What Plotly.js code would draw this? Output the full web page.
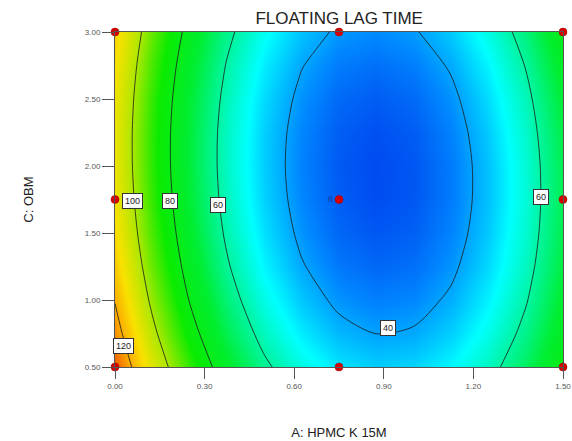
<!DOCTYPE html>
<html>
<head>
<meta charset="utf-8">
<script src="https://cdn.plot.ly/plotly-3.0.1.min.js"></script>
<style>html,body{margin:0;padding:0;background:#fff;}#chart{width:572px;height:441px;}</style>
</head>
<body>
<div id="chart"></div>
<script>
// A: HPMC K 15M (x) grid and C: OBM (y) grid
var hpmc = [0, 0.125, 0.25, 0.375, 0.5, 0.625, 0.75, 0.875, 1.0, 1.125, 1.25, 1.375, 1.5];
var obm = [0.5, 0.75, 1.0, 1.25, 1.5, 1.75, 2.0, 2.25, 2.5, 2.75, 3.0];
// Floating lag time (rows follow obm)
var lagTime = [
  [129.75, 107.95, 89.37, 74.01, 61.87, 52.95, 47.24, 44.76, 45.49, 49.45, 56.62, 67.01, 80.62],
  [124.17, 102.49, 84.02, 68.77, 56.74, 47.93, 42.34, 39.96, 40.81, 44.87, 52.15, 62.65, 76.37],
  [119.51, 97.93, 79.57, 64.43, 52.51, 43.81, 38.33, 36.07, 37.02, 41.20, 48.59, 59.20, 73.03],
  [115.74, 94.27, 76.03, 61.00, 49.19, 40.60, 35.23, 33.08, 34.14, 38.43, 45.93, 56.65, 70.59],
  [112.88, 91.52, 73.39, 58.47, 46.77, 38.29, 33.03, 30.99, 32.17, 36.56, 44.18, 55.01, 69.06],
  [110.92, 89.68, 71.65, 56.84, 45.26, 36.89, 31.74, 29.81, 31.09, 35.60, 43.33, 54.27, 68.43],
  [109.86, 88.73, 70.82, 56.12, 44.64, 36.39, 31.35, 29.53, 30.93, 35.54, 43.38, 54.43, 68.71],
  [109.72, 88.69, 70.89, 56.30, 44.94, 36.79, 31.86, 30.15, 31.66, 36.39, 44.33, 55.50, 69.88],
  [110.47, 89.56, 71.86, 57.39, 46.13, 38.10, 33.28, 31.68, 33.30, 38.14, 46.20, 57.47, 71.97],
  [112.13, 91.32, 73.74, 59.38, 48.23, 40.31, 35.60, 34.11, 35.84, 40.79, 48.96, 60.35, 74.95],
  [114.69, 94.00, 76.53, 62.27, 51.24, 43.42, 38.83, 37.45, 39.29, 44.35, 52.63, 64.13, 78.84]
];
// design points
var designA = [0, 0, 0, 0.75, 0.75, 0.75, 1.5, 1.5, 1.5];
var designC = [0.5, 1.75, 3.0, 0.5, 1.75, 3.0, 0.5, 1.75, 3.0];
var designText = ['', '', '', '', '6', '', '', '', ''];
// contour label positions and texts
var labelA = [0.057, 0.184, 0.345, 1.426, 0.914, 0.03];
var labelC = [1.74, 1.74, 1.71, 1.77, 0.79, 0.657];
var labelText = ['100', '80', '60', '60', '40', '120'];
var xTicks = [0, 0.3, 0.6, 0.9, 1.2, 1.5];
var yTicks = [0.5, 1.0, 1.5, 2.0, 2.5, 3.0];

var zlo = 29.5, zhi = 130;
function stop(v, c) { return [(v - zlo) / (zhi - zlo), c]; }
var scale = [
  stop(29.5, 'rgb(0,75,240)'),
  stop(37, 'rgb(0,135,255)'),
  stop(50, 'rgb(0,255,255)'),
  stop(60, 'rgb(0,245,160)'),
  stop(72, 'rgb(0,238,50)'),
  stop(86, 'rgb(10,235,0)'),
  stop(100, 'rgb(170,232,0)'),
  stop(112, 'rgb(250,225,0)'),
  stop(122, 'rgb(250,160,0)'),
  stop(130, 'rgb(240,90,0)')
];

var traces = [
  {type: 'heatmap', x: hpmc, y: obm, z: lagTime, zsmooth: 'best', colorscale: scale,
   zmin: zlo, zmax: zhi, showscale: false, hoverinfo: 'skip'},
  {type: 'contour', x: hpmc, y: obm, z: lagTime, showscale: false, hoverinfo: 'skip',
   contours: {start: 40, end: 120, size: 20, coloring: 'none'},
   line: {color: '#1a1a1a', width: 0.8, smoothing: 0.8}},
  {type: 'scatter', mode: 'markers+text', x: designA, y: designC, text: designText,
   textposition: 'middle left', textfont: {family: 'Liberation Sans, Arial', size: 9, color: '#1a3a9a'},
   marker: {color: '#d50000', size: 8, line: {color: '#a00000', width: 0.5}},
   cliponaxis: false, hoverinfo: 'skip'}
];

var annotations = labelText.map(function (t, i) {
  return {x: labelA[i], y: labelC[i], xref: 'x', yref: 'y', text: t, showarrow: false,
    bgcolor: '#ffffff', bordercolor: '#333', borderwidth: 1, borderpad: 2,
    font: {family: 'Liberation Sans, Arial', size: 9, color: '#222'}};
});

var axisCommon = {showgrid: false, zeroline: false, ticks: 'outside',
  tickcolor: '#555', tickwidth: 1, showline: true, mirror: true, linecolor: '#555', linewidth: 1,
  tickfont: {family: 'Liberation Sans, Arial', size: 8, color: '#555'}, tickformat: '.2f'};

var layout = {
  width: 572, height: 441,
  margin: {l: 115, r: 9, t: 32, b: 74},
  paper_bgcolor: '#fff', plot_bgcolor: '#fff',
  showlegend: false,
  font: {family: 'Liberation Sans, Arial', color: '#222'},
  title: {text: 'FLOATING LAG TIME', font: {family: 'Liberation Sans, Arial', size: 17, color: '#222'},
    x: 0.593, xanchor: 'center', y: 0.96, yanchor: 'middle'},
  xaxis: Object.assign({}, axisCommon, {range: [0, 1.5], tickvals: xTicks, ticklen: 11,
    title: {text: 'A: HPMC K 15M', standoff: 38, font: {family: 'Liberation Sans, Arial', size: 13, color: '#222'}}}),
  yaxis: Object.assign({}, axisCommon, {range: [0.5, 3.0], tickvals: yTicks, ticklen: 12,
    title: {text: 'C: OBM', standoff: 48, font: {family: 'Liberation Sans, Arial', size: 13, color: '#222'}}}),
  annotations: annotations
};

Plotly.newPlot('chart', traces, layout, {displayModeBar: false, staticPlot: true});
</script>
</body>
</html>
